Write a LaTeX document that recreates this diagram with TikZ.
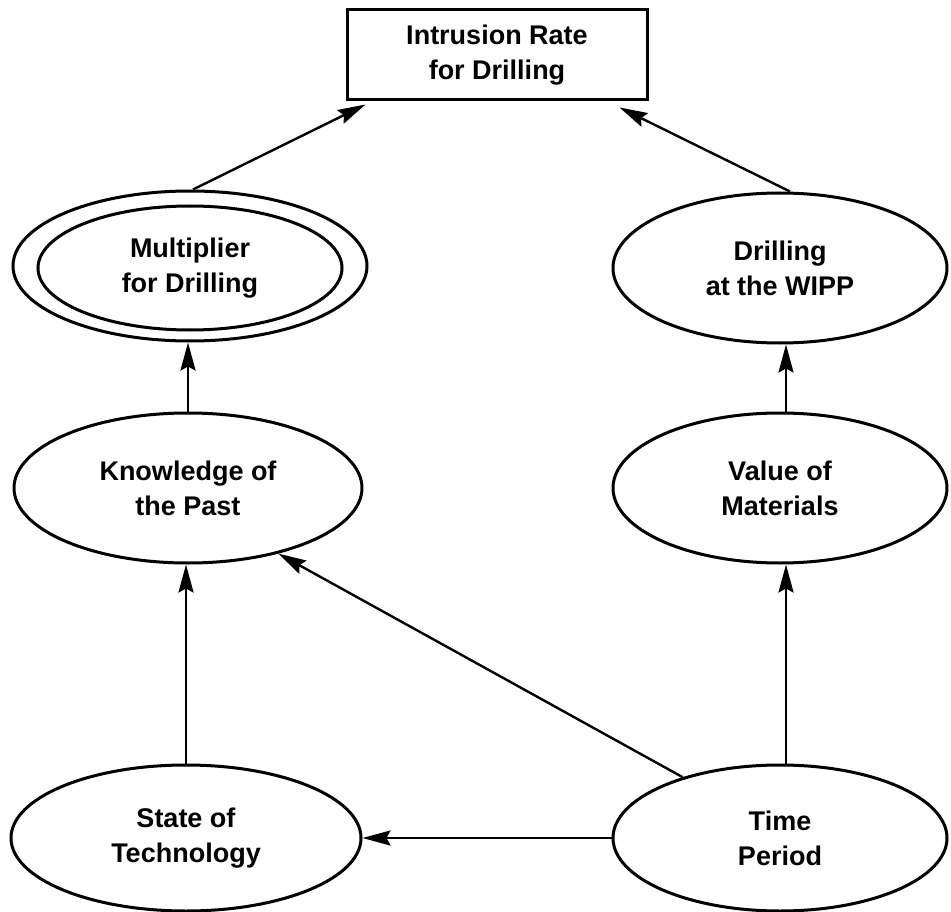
\documentclass[tikz,border=0pt]{standalone}
\usepackage{fontspec}
\setmainfont{Liberation Sans}
\usetikzlibrary{shapes.geometric,arrows.meta,calc}
\tikzset{
  lbl/.style={align=center, font=\bfseries\fontsize{27}{35}\selectfont, inner sep=0pt},
  ell/.style={lbl, draw, line width=3pt, ellipse},
  bigell/.style={ell, minimum width=334pt, minimum height=150pt},
  arr/.style={line width=2.4pt, -{Stealth[length=28pt,width=15pt,inset=4pt]}},
}
\begin{document}
\begin{tikzpicture}[x=1pt,y=-1pt]
\useasboundingbox (0,0) rectangle (951,912);
\node[lbl, draw, line width=3pt, minimum width=300pt, minimum height=90pt] (box) at (497,55) {Intrusion Rate\\for Drilling};
\node[ell, minimum width=354pt, minimum height=150pt] (mult) at (190,266) {};
\node[ell, minimum width=304pt, minimum height=124pt] (multin) at (190,268) {Multiplier\\for Drilling};
\node[bigell] (wipp) at (780,268) {Drilling\\at the WIPP};
\node[ell, minimum width=348pt, minimum height=150pt] (know) at (188,488) {Knowledge of\\the Past};
\node[bigell] (value) at (780,488) {Value of\\Materials};
\node[ell, minimum width=350pt, minimum height=146pt] (state) at (186,838) {State of\\Technology};
\node[bigell, minimum height=146pt] (time) at (780,838) {Time\\Period};
\draw[arr] ([xshift=3pt]mult.north) -- ($(box.south west)+(20,3)$);
\draw[arr] ([xshift=10pt]wipp.north) -- ($(box.south east)+(-29,6)$);
\draw[arr] (know.north) -- (know.north |- mult.south);
\draw[arr] ([xshift=6pt]value.north) -- ([xshift=6pt]wipp.south);
\draw[arr] (state.north) -- (state.north |- know.south);
\draw[arr] ([xshift=6pt]time.north) -- ([xshift=6pt]value.south);
\draw[arr] (time.west) -- (state.east);
\draw[arr] (time.148) -- (know.-36);
\end{tikzpicture}
\end{document}
